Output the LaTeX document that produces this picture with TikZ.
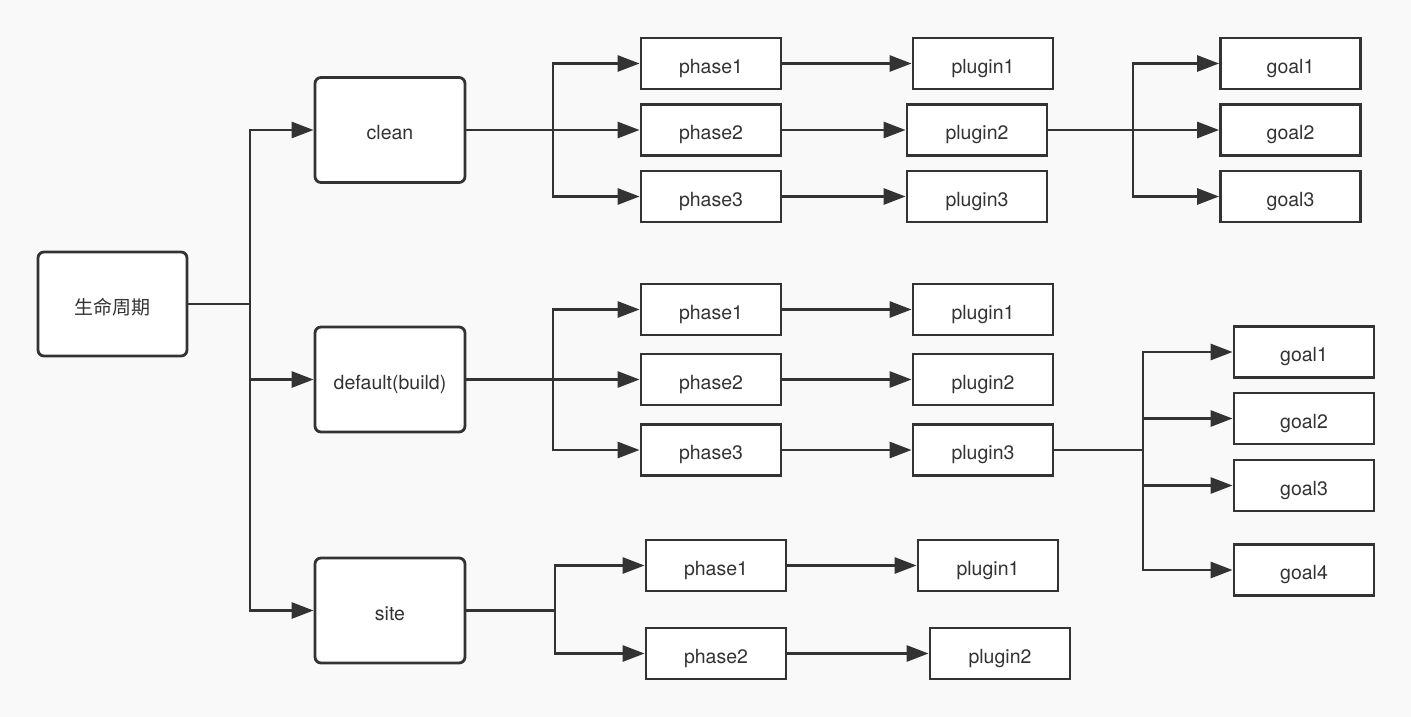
\documentclass[tikz,border=0pt]{standalone}
\usepackage{fontspec}
\setmainfont{TeX Gyre Heros}
\newfontfamily\cjkfont{Noto Sans CJK SC}
\usetikzlibrary{arrows.meta}
\definecolor{ink}{HTML}{333333}
\definecolor{paper}{HTML}{F9F9F9}
\tikzset{
  box/.style={draw=ink, fill=white, line width=2.8pt, inner sep=0pt,
    minimum width=140pt, minimum height=51pt, font=\fontsize{19.5}{21}\selectfont,
    text=ink, text height=19.5pt, text depth=0pt},
  rbox/.style={box, rounded corners=6pt, minimum width=150pt, minimum height=105pt},
  wire/.style={draw=ink, line width=2.8pt},
  arr/.style={wire, -{Triangle[length=22pt,width=16pt]}},
}
\begin{document}
\begin{tikzpicture}[x=1pt,y=-1pt]
  \fill[paper] (0,0) rectangle (1411,717);
  \useasboundingbox (0,0) rectangle (1411,717);

  % lifecycle root and its three lifecycles
  \node[rbox, minimum width=149pt, minimum height=104pt, text height=21pt,
        font=\cjkfont\fontsize{19}{21}\selectfont] (root) at (112.5,304) {生命周期};
  \node[rbox] (clean) at (390,130) {clean};
  \node[rbox] (build) at (390,379.5) {default(build)};
  \node[rbox] (site)  at (390,610.5) {site};

  \coordinate (j0) at (250,304);
  \draw[wire] (root.east) -- (j0);
  \draw[wire] (j0) -- (250,130);
  \draw[wire] (j0) -- (250,610.5);
  \draw[arr] (j0) |- (clean.west);
  \draw[arr] (j0) |- (build.west);
  \draw[arr] (j0) |- (site.west);

  % clean: phases, plugins, goals
  \node[box] (cp1) at (711,63.5) {phase1};
  \node[box] (cp2) at (711,130) {phase2};
  \node[box] (cp3) at (711,196.5) {phase3};
  \node[box] (cg1) at (983,63.5) {plugin1};
  \node[box] (cg2) at (977,130) {plugin2};
  \node[box] (cg3) at (977,196.5) {plugin3};
  \node[box] (co1) at (1290.5,63.5) {goal1};
  \node[box] (co2) at (1290.5,130) {goal2};
  \node[box] (co3) at (1290.5,196.5) {goal3};

  \coordinate (j1) at (553,130);
  \draw[wire] (clean.east) -- (j1);
  \draw[wire] (553,63.5) -- (553,196.5);
  \draw[arr] (j1) |- (cp1.west);
  \draw[arr] (j1) -- (cp2.west);
  \draw[arr] (j1) |- (cp3.west);
  \draw[arr] (cp1) -- (cg1);
  \draw[arr] (cp2) -- (cg2);
  \draw[arr] (cp3) -- (cg3);
  \coordinate (j2) at (1133,130);
  \draw[wire] (cg2.east) -- (j2);
  \draw[wire] (1133,63.5) -- (1133,196.5);
  \draw[arr] (j2) |- (co1.west);
  \draw[arr] (j2) -- (co2.west);
  \draw[arr] (j2) |- (co3.west);

  % default(build): phases, plugins, goals
  \node[box] (dp1) at (711,309.5) {phase1};
  \node[box] (dp2) at (711,379.5) {phase2};
  \node[box] (dp3) at (711,450) {phase3};
  \node[box] (dg1) at (983,309.5) {plugin1};
  \node[box] (dg2) at (983,379.5) {plugin2};
  \node[box] (dg3) at (983,450) {plugin3};
  \node[box] (do1) at (1304,352) {goal1};
  \node[box] (do2) at (1304,418.5) {goal2};
  \node[box] (do3) at (1304,485.5) {goal3};
  \node[box] (do4) at (1304,570) {goal4};

  \coordinate (j3) at (553,379.5);
  \draw[wire] (build.east) -- (j3);
  \draw[wire] (553,309.5) -- (553,450);
  \draw[arr] (j3) |- (dp1.west);
  \draw[arr] (j3) -- (dp2.west);
  \draw[arr] (j3) |- (dp3.west);
  \draw[arr] (dp1) -- (dg1);
  \draw[arr] (dp2) -- (dg2);
  \draw[arr] (dp3) -- (dg3);
  \coordinate (j4) at (1143,450);
  \draw[wire] (dg3.east) -- (j4);
  \draw[wire] (1143,352) -- (1143,570);
  \draw[arr] (j4) |- (do1.west);
  \draw[arr] (j4) |- (do2.west);
  \draw[arr] (j4) |- (do3.west);
  \draw[arr] (j4) |- (do4.west);

  % site: phases and plugins
  \node[box] (sp1) at (716,565.5) {phase1};
  \node[box] (sp2) at (716,653.5) {phase2};
  \node[box] (sg1) at (988,565.5) {plugin1};
  \node[box] (sg2) at (1000,653.5) {plugin2};

  \coordinate (j5) at (555,610.5);
  \draw[wire] (site.east) -- (j5);
  \draw[wire] (555,565.5) -- (555,653.5);
  \draw[arr] (j5) |- (sp1.west);
  \draw[arr] (j5) |- (sp2.west);
  \draw[arr] (sp1) -- (sg1);
  \draw[arr] (sp2) -- (sg2);
\end{tikzpicture}
\end{document}
